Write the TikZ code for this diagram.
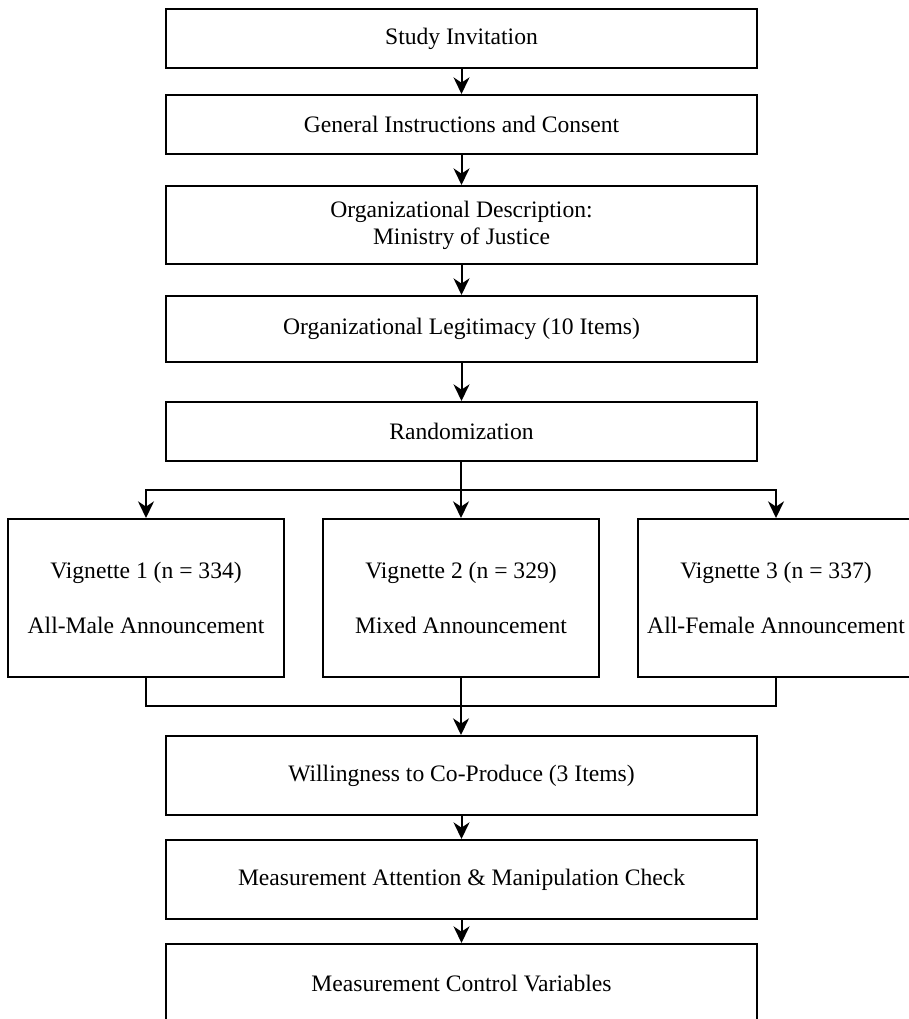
\documentclass[tikz,border=0pt]{standalone}
\usepackage{fontspec}
\setmainfont{Liberation Serif}
\usetikzlibrary{arrows.meta}

\begin{document}
\begin{tikzpicture}[x=0.75pt,y=-0.75pt,
    box/.style={draw,line width=1.5pt,minimum width=443.25pt,minimum height=44.25pt,
        align=center,inner sep=0pt,font=\fontsize{17.7}{20.3}\selectfont},
    vbox/.style={box,minimum width=207pt,minimum height=118.5pt},
    arr/.style={line width=1.5pt,-{Stealth[length=12.5pt,width=12pt,inset=4pt]}},
    lin/.style={line width=1.5pt}]
    \useasboundingbox (0,0) rectangle (908,1019);
%    upper chain
    \node[box] (invite) at (461.5,38.5) {Study Invitation};
    \node[box] (consent) at (461.5,124.5) {General Instructions and Consent};
    \node[box,minimum height=58.5pt] (descr) at (461.5,225) {Organizational Description:\\Ministry of Justice};
    \node[box,minimum height=49.5pt] (legit) at (461.5,329) {Organizational Legitimacy (10 Items)};
    \node[box] (random) at (461.5,431.5) {Randomization};
%    vignettes
    \node[vbox] (vig1) at (146,598) {Vignette 1 (n = 334)\\[21pt]All-Male Announcement};
    \node[vbox] (vig2) at (461,598) {Vignette 2 (n = 329)\\[21pt]Mixed Announcement};
    \node[vbox] (vig3) at (776,598) {Vignette 3 (n = 337)\\[21pt]All-Female Announcement};
%    lower chain
    \node[box,minimum height=59.25pt] (willing) at (461.5,775.5) {Willingness to Co-Produce (3 Items)};
    \node[box,minimum height=59.25pt] (attention) at (461.5,879.5) {Measurement Attention \& Manipulation Check};
    \node[box,minimum height=59.25pt] (control) at (461.5,983.5) {Measurement Control Variables};
    \coordinate (split) at (461,490);
    \coordinate (merge) at (461,706);

    \draw[arr] (invite) -- (consent);
    \draw[arr] (consent) -- (descr);
    \draw[arr] (descr) -- (legit);
    \draw[arr] (legit) -- (random);
    \draw[arr] (random.south -| vig2) -- (vig2);
    \draw[arr] (split) -| (vig1);
    \draw[arr] (split) -| (vig3);
    \draw[lin] (vig1) |- (merge);
    \draw[lin] (vig3) |- (merge);
    \draw[arr] (vig2) -- (willing.north -| vig2);
    \draw[arr] (willing) -- (attention);
    \draw[arr] (attention) -- (control);
\end{tikzpicture}
\end{document}
